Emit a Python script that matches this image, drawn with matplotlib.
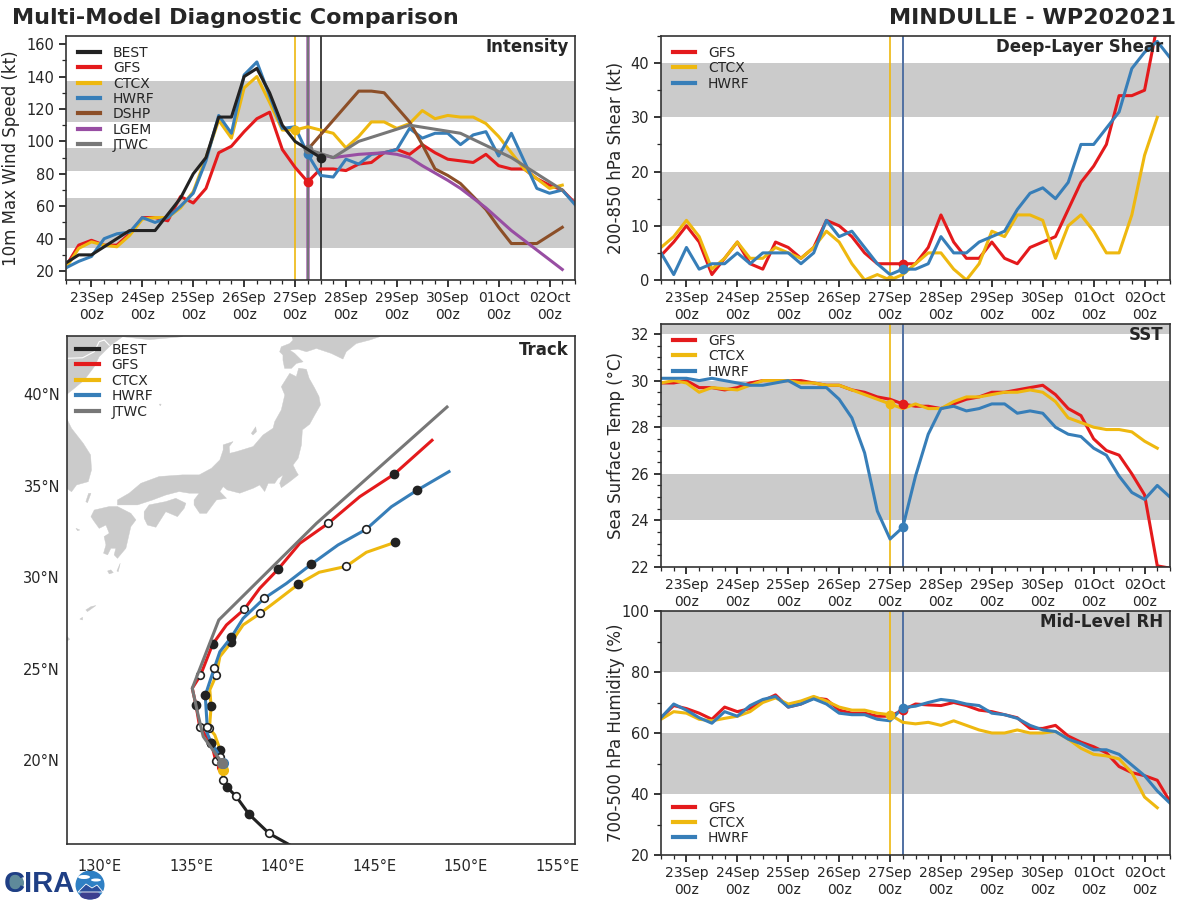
# Multi-model diagnostic comparison panel for MINDULLE
import matplotlib
matplotlib.use('Agg')
import matplotlib.pyplot as plt
import numpy as np
from matplotlib.patches import Circle, Polygon, Ellipse
from matplotlib.ticker import MultipleLocator

# model colours
BLACK = '#222222'
RED = '#e41a1c'
YELLOW = '#eeb80f'
BLUE = '#377eb8'
BROWN = '#8c4f28'
PURPLE = '#984ea3'
GREY = '#777777'
BAND = '#cbcbcb'
TXT = '#262626'

day_labels = ['23Sep', '24Sep', '25Sep', '26Sep', '27Sep', '28Sep', '29Sep', '30Sep', '01Oct', '02Oct']

# intensity (kt), 6-hourly from 22Sep 12z
int_best = [25, 30, 30, 35, 40, 45, 45, 45, 55, 65, 80, 90, 115, 115, 140, 145, 130, 110, 100, 95, 90]
int_gfs = [23, 36, 39, 36, 36, 43, 53, 53, 51, 66, 62, 71, 93, 97, 106, 114, 118, 95, 84, 75, 83, 83, 82, 86, 87, 93,
           95, 92, 98, 93, 89, 88, 87, 92, 85, 83, 83, 77, 73, 70, 62]
int_ctcx = [22, 34, 38, 36, 35, 42, 52, 53, 53, 59, 69, 90, 113, 102, 133, 140, 124, 107, 107, 109, 107, 105, 96, 103,
            112, 112, 108, 111, 119, 114, 116, 115, 115, 111, 103, 93, 83, 77, 71, 73]
int_hwrf = [22, 26, 29, 40, 43, 44, 53, 50, 53, 60, 68, 88, 116, 105, 141, 149, 128, 108, 109, 92, 79, 78, 89, 86, 92,
            93, 95, 108, 102, 105, 105, 98, 104, 106, 91, 105, 88, 71, 68, 70, 61]
int_dshp = [95, 104, 113, 122, 131, 131, 130, 121, 112, 98, 83, 79, 74, 66, 58, 47, 37, 37, 37, 42, 47]
int_lgem = [95, 92, 90, 91, 92, 92.5, 93, 92, 90, 85, 80.5, 76, 71, 65, 59, 52, 45, 39, 33, 27, 21]
jtwc_days = [4.25, 4.75, 5.25, 6.25, 7.25, 8.25, 9.25]
int_jtwc = [95, 90, 100, 110, 105, 90, 70]

# deep-layer shear (kt)
shr_gfs = [4.5, 7, 10, 7, 1, 4, 7, 3, 2, 7, 6, 4, 6, 11, 10, 8, 5, 3, 3, 3, 3, 6, 12, 7, 4, 4, 7, 4, 3, 6, 7, 8, 13,
           18, 21, 25, 34, 34, 35, 47, 50]
shr_ctcx = [6, 8, 11, 8, 2, 4, 7, 4, 4, 6, 5, 4, 6, 9, 7, 3, 0, 1, 0, 1, 3, 5, 5, 2, 0, 3, 9, 8, 12, 12, 11, 4, 10, 12,
            9, 5, 5, 12, 23, 30]
shr_hwrf = [5, 1, 6, 2, 3, 3, 5, 3, 5, 5, 5, 3, 5, 11, 8, 9, 6, 3, 1, 2, 2, 3, 8, 5, 5, 7, 8, 9, 13, 16, 17, 15, 18, 25,
            25, 28, 31, 39, 42, 44, 41]

# sea surface temperature (C)
sst_gfs = [29.9, 29.9, 30.0, 29.7, 29.7, 29.6, 29.7, 29.9, 30.0, 30.0, 30.0, 30.0, 29.9, 29.8, 29.8, 29.6, 29.5, 29.3,
           29.2, 29.0, 28.9, 28.9, 28.8, 29.0, 29.2, 29.3, 29.5, 29.5, 29.6, 29.7, 29.8, 29.4, 28.8, 28.5, 27.5, 27.0,
           26.8, 26.0, 25.1, 22.05, 21.95]
sst_ctcx = [29.9, 30.0, 29.9, 29.5, 29.7, 29.65, 29.6, 29.8, 30.0, 30.0, 30.0, 29.9, 29.9, 29.8, 29.8, 29.6, 29.4, 29.2,
            29.0, 28.8, 29.0, 28.8, 28.8, 29.1, 29.3, 29.3, 29.4, 29.5, 29.5, 29.6, 29.5, 29.1, 28.4, 28.2, 28.0, 27.9,
            27.9, 27.8, 27.4, 27.1]
sst_hwrf = [30.1, 30.1, 30.1, 30.0, 30.1, 30.0, 29.9, 29.8, 29.8, 29.9, 30.0, 29.7, 29.7, 29.7, 29.2, 28.4, 26.9, 24.4,
            23.2, 23.7, 25.9, 27.7, 28.8, 28.9, 28.7, 28.8, 29.0, 29.0, 28.6, 28.7, 28.6, 28.0, 27.7, 27.6, 27.1, 26.8,
            25.9, 25.2, 24.9, 25.5, 25.0]

# mid-level humidity (%)
rh_gfs = [65, 69, 68, 66.5, 64.5, 68.5, 67, 68, 70.5, 72.5, 68.5, 69.5, 71.5, 71, 67.5, 66.5, 66.5, 65.5, 65.5, 67.5,
          69.5, 69.2, 69, 70, 69, 67.5, 67, 66, 65, 61.5, 61.5, 62.5, 59, 57, 55.5, 53.5, 49, 47, 46, 44.5, 37.5]
rh_ctcx = [64.5, 67, 66.5, 64.5, 64, 64.8, 65.5, 67, 70, 71.5, 69.5, 70.5, 72, 70.5, 68.5, 67.5, 67.5, 66.5, 66, 63.5,
           63, 63.5, 62.5, 64, 62.5, 61, 60, 60, 61, 60, 60, 60.5, 58, 55, 53, 52.5, 51.5, 47, 39, 35.5]
rh_hwrf = [65, 69.5, 67.5, 65, 63.2, 67, 65.5, 69, 71, 72, 68.5, 69.5, 71.2, 69.5, 66.5, 66, 66, 64.5, 64, 68.3, 68.8,
           70, 71, 70.5, 69.5, 69, 66.5, 66, 64.8, 62.5, 61, 60.5, 58, 56.5, 54.5, 54.5, 53, 49.5, 46, 41, 37]

# tracks, lon / lat with 12-hourly dots
best_lon = [141.2, 140.29, 139.25, 138.16, 137.45, 136.96, 136.74, 136.74, 136.70]
best_lat = [14.9, 15.41, 15.99, 17.03, 18.01, 18.51, 18.89, 19.45, 19.82]
best_open = [2, 4, 6]
best_fill = [3, 5]

gfs_lon = [136.70, 136.34, 136.10, 135.46, 135.25, 135.05, 135.50, 136.16, 136.92, 137.89, 138.74, 139.74, 140.93,
           142.48, 144.21, 146.08, 148.16]
gfs_lat = [19.64, 19.93, 20.91, 21.79, 23.01, 23.92, 24.63, 26.32, 27.38, 28.23, 29.38, 30.42, 31.84, 32.93, 34.39,
           35.61, 37.47]
gfs_open = [1, 3, 6, 9, 13]
gfs_fill = [2, 4, 7, 11, 15]

ctcx_lon = [136.74, 136.58, 136.28, 135.99, 136.08, 136.01, 136.36, 136.56, 137.18, 137.83, 138.76, 139.84, 140.84,
            141.99, 143.46, 144.57, 146.13]
ctcx_lat = [19.45, 20.55, 21.37, 21.73, 22.93, 23.83, 24.63, 25.65, 26.43, 27.38, 28.01, 28.83, 29.60, 30.26, 30.58,
            31.35, 31.89]
ctcx_open = [3, 6, 10, 14]
ctcx_fill = [1, 4, 8, 12, 16]

hwrf_lon = [136.74, 136.58, 136.10, 135.83, 135.87, 135.76, 136.25, 136.56, 137.18, 137.83, 138.98, 140.20, 141.55,
            143.02, 144.55, 145.94, 147.34, 149.09]
hwrf_lat = [19.82, 20.18, 20.91, 21.55, 21.79, 23.53, 25.01, 25.92, 26.70, 27.74, 28.83, 29.65, 30.69, 31.75, 32.60,
            33.84, 34.74, 35.76]
hwrf_open = [1, 4, 6, 10, 14]
hwrf_fill = [2, 5, 8, 12, 16]

jtwc_lon = [136.70, 135.65, 135.37, 135.05, 136.50, 141.84, 148.98]
jtwc_lat = [19.82, 21.28, 22.46, 23.92, 27.65, 32.93, 39.29]

# land outlines
honshu = [(140.38, 41.13), (140.74, 40.95), (140.87, 41.41), (141.29, 41.35), (141.44, 40.86), (141.75, 40.31),
          (141.98, 39.86), (142.06, 39.40), (141.75, 38.86), (141.47, 38.35), (141.07, 38.04), (141.02, 37.22),
          (140.84, 36.49), (140.56, 36.12), (140.74, 35.76), (140.85, 35.58), (140.38, 35.21), (139.92, 34.88),
          (139.83, 35.12), (140.02, 35.58), (139.74, 35.39), (139.56, 35.12), (139.20, 35.12), (139.01, 34.67),
          (138.74, 35.03), (138.38, 34.85), (137.65, 34.58), (136.96, 34.76), (136.74, 34.94), (136.56, 34.67),
          (136.92, 34.30), (136.37, 34.21), (135.83, 33.48), (135.46, 33.48), (135.15, 33.94), (135.15, 34.21),
          (135.43, 34.58), (134.88, 34.58), (134.33, 34.67), (133.60, 34.48), (132.88, 34.21), (132.33, 34.03),
          (132.06, 33.94), (130.96, 33.94), (130.96, 34.21), (131.60, 34.58), (132.24, 35.12), (133.24, 35.49),
          (134.52, 35.58), (135.43, 35.58), (136.10, 35.94), (136.56, 36.40), (136.74, 36.94), (136.74, 37.22),
          (137.28, 37.40), (137.07, 37.13), (137.10, 36.76), (137.47, 36.85), (138.38, 37.13), (138.92, 37.76),
          (139.47, 38.13), (139.56, 38.49), (139.92, 39.13), (140.11, 39.95), (139.92, 40.40)]
hokkaido = [(139.92, 42.58), (140.38, 42.76), (140.56, 42.95), (140.47, 43.22), (140.47, 43.77), (145.66, 43.77),
            (145.30, 43.13), (144.75, 42.95), (144.02, 42.76), (143.47, 42.31), (143.29, 41.91), (142.65, 42.22),
            (141.84, 42.49), (141.29, 42.31), (140.83, 42.45), (140.38, 42.40), (140.65, 42.22), (141.11, 41.76),
            (140.74, 41.67), (140.47, 41.40), (140.10, 41.40), (140.01, 41.85), (140.01, 42.13), (139.83, 42.31)]
shikoku = [(132.42, 33.57), (132.69, 33.94), (133.60, 34.12), (134.15, 34.30), (134.70, 34.03), (134.61, 33.76),
           (134.24, 33.30), (133.60, 33.57), (133.06, 32.72), (132.60, 32.84), (132.42, 33.21)]
kyushu = [(129.69, 33.66), (130.51, 33.85), (130.96, 33.85), (131.69, 33.48), (131.97, 33.12), (131.69, 32.75),
          (131.42, 31.57), (130.96, 31.02), (130.78, 31.21), (130.87, 31.57), (130.60, 31.57), (130.42, 31.21),
          (130.20, 31.30), (130.33, 31.75), (130.23, 32.21), (130.51, 32.39), (130.33, 32.84), (129.96, 32.66),
          (129.69, 33.03), (129.51, 33.30)]
korea = [(128.18, 38.67), (128.45, 38.12), (129.09, 37.30), (129.49, 36.67), (129.54, 35.85), (129.36, 35.21),
         (128.72, 35.03), (128.45, 34.66), (128.18, 34.85), (127.8, 34.85), (127.8, 38.67)]
north_asia = [(134.51, 43.13), (134.51, 43.77), (127.8, 43.77), (127.8, 39.94), (128.14, 39.94), (128.60, 40.31),
              (129.14, 40.76), (129.69, 41.49), (129.96, 42.04), (130.60, 42.67), (131.24, 43.13), (132.69, 42.97)]
islands = [[(129.38, 34.57), (129.51, 34.57), (129.32, 34.06), (129.23, 34.12)],
           [(130.42, 30.33), (130.60, 30.39), (130.73, 30.24), (130.51, 30.17)],
           [(131.11, 30.75), (131.00, 30.29), (130.93, 30.33)],
           [(129.78, 28.44), (129.32, 28.11), (129.23, 28.20), (129.51, 28.38)],
           [(129.05, 27.80), (128.90, 27.70), (129.05, 27.65)],
           [(128.20, 26.75), (128.35, 26.60), (128.20, 26.50)],
           [(128.69, 32.66), (128.90, 32.57), (128.78, 32.53)],
           [(138.28, 37.85), (138.52, 38.21), (138.56, 37.94), (138.37, 37.76)],
           [(133.25, 39.45), (133.35, 39.45), (133.30, 39.35)]]
border_lon = [128.14, 129.05, 129.69, 129.96, 130.24, 130.51]
border_lat = [41.95, 41.98, 42.31, 42.86, 42.95, 42.67]
lon_ticks = [130, 135, 140, 145, 150, 155]
lat_ticks = [20, 25, 30, 35, 40]

plt.rcParams['font.family'] = 'DejaVu Sans'
plt.rcParams['text.color'] = TXT
plt.rcParams['axes.labelcolor'] = TXT
plt.rcParams['xtick.color'] = TXT
plt.rcParams['ytick.color'] = TXT

W, H = 1200, 900
LW = 2.2
fig = plt.figure(figsize=(12, 9), dpi=100)
LEG = dict(frameon=False, fontsize=10, handlelength=1.6, handletextpad=0.9, labelspacing=0.1)


def add_axes_px(left, top, right, bottom):
    """Add an axes from pixel edges measured from the top left corner."""
    return fig.add_axes([left / W, 1 - bottom / H, (right - left) / W, (bottom - top) / H])


def hours(values):
    return np.arange(len(values)) * 0.25 - 0.5


def setup_time_axis(ax, ylim, yticks, yminor, bands, ylabel, title, label_x):
    ax.set_xlim(-0.5, 9.5)
    ax.set_ylim(*ylim)
    ax.set_xticks(np.arange(10))
    ax.set_xticklabels([d + '\n00z' for d in day_labels], linespacing=1.25)
    ax.xaxis.set_minor_locator(MultipleLocator(0.25))
    ax.set_yticks(yticks)
    ax.yaxis.set_minor_locator(MultipleLocator(yminor))
    ax.tick_params(axis='both', which='major', length=5, width=1.3, labelsize=10.5)
    ax.tick_params(axis='x', which='major', pad=3, labelsize=10)
    ax.tick_params(axis='both', which='minor', length=3, width=0.9)
    for lo, hi in bands:
        ax.axhspan(lo, hi, color=BAND, lw=0, zorder=0)
    for s in ax.spines.values():
        s.set_linewidth(1.2)
        s.set_color('#333333')
        s.set_zorder(20)
    ax.set_ylabel(ylabel, fontsize=12)
    ax.yaxis.set_label_coords(label_x, 0.5)
    ax.text(0.987, 0.955, title, transform=ax.transAxes, ha='right', va='center', fontsize=12,
            fontweight='bold', zorder=30)


def thick_legend(leg):
    for line in leg.get_lines():
        line.set_linewidth(3)


def model_lines(ax, series):
    """Draw each model with its analysis dot and vertical marker."""
    for name, color, values, ref_i in series:
        x = hours(values)
        ax.axvline(x[ref_i], color=color, lw=1.2, zorder=3)
        ax.plot(x, values, color=color, lw=LW, label=name, zorder=5, solid_joinstyle='round')
        ax.plot(x[ref_i], values[ref_i], 'o', color=color, ms=6, zorder=6)


# intensity panel
ax1 = add_axes_px(66, 36, 575, 280)
setup_time_axis(ax1, (14.5, 165), [20, 40, 60, 80, 100, 120, 140, 160], 10,
                [(34, 65), (82, 96), (112, 137)], '10m Max Wind Speed (kt)', 'Intensity', -0.09)
ax1.axvline(4.25, color=PURPLE, lw=2.6, zorder=3, alpha=0.8)
model_lines(ax1, [('GFS', RED, int_gfs, 19), ('CTCX', YELLOW, int_ctcx, 18), ('HWRF', BLUE, int_hwrf, 19)])
xd = 4.25 + np.arange(len(int_dshp)) * 0.25
ax1.plot(xd, int_dshp, color=BROWN, lw=LW, label='DSHP', zorder=5)
ax1.plot(4.25 + np.arange(len(int_lgem)) * 0.25, int_lgem, color=PURPLE, lw=LW, label='LGEM', zorder=5)
ax1.plot(jtwc_days, int_jtwc, color=GREY, lw=LW, label='JTWC', zorder=5)
ax1.axvline(4.25, color=GREY, lw=1.4, zorder=4)
ax1.plot(jtwc_days[0], int_jtwc[0], 'o', color=GREY, ms=6, zorder=6)
ax1.axvline(4.5, color=BLACK, lw=1.2, zorder=4)
ax1.plot(hours(int_best), int_best, color=BLACK, lw=LW, label='BEST', zorder=7)
ax1.plot(hours(int_best)[-1], int_best[-1], 'o', color=BLACK, ms=6, zorder=8)
h, l = ax1.get_legend_handles_labels()
order = ['BEST', 'GFS', 'CTCX', 'HWRF', 'DSHP', 'LGEM', 'JTWC']
thick_legend(ax1.legend([h[l.index(n)] for n in order], order, loc='upper left', bbox_to_anchor=(0.005, 1.0),
                        borderpad=0.2, **LEG))

# shear panel
ax2 = add_axes_px(661, 36, 1170, 280)
setup_time_axis(ax2, (0, 45), [0, 10, 20, 30, 40], 5, [(10, 20), (30, 40)], '200-850 hPa Shear (kt)',
                'Deep-Layer Shear', -0.07)
model_lines(ax2, [('GFS', RED, shr_gfs, 19), ('CTCX', YELLOW, shr_ctcx, 18), ('HWRF', BLUE, shr_hwrf, 19)])
thick_legend(ax2.legend(loc='upper left', bbox_to_anchor=(0.005, 1.0), borderpad=0.2, **LEG))

# sst panel
ax3 = add_axes_px(661, 324, 1170, 567)
setup_time_axis(ax3, (22, 32.43), [22, 24, 26, 28, 30, 32], 0.5, [(24, 26), (28, 30), (32, 34)],
                'Sea Surface Temp (°C)', 'SST', -0.07)
model_lines(ax3, [('GFS', RED, sst_gfs, 19), ('CTCX', YELLOW, sst_ctcx, 18), ('HWRF', BLUE, sst_hwrf, 19)])
thick_legend(ax3.legend(loc='upper left', bbox_to_anchor=(0.005, 1.0), borderpad=0.2, **LEG))

# humidity panel
ax4 = add_axes_px(661, 611, 1170, 855)
setup_time_axis(ax4, (20, 100), [20, 40, 60, 80, 100], 10, [(40, 60), (80, 100)], '700-500 hPa Humidity (%)',
                'Mid-Level RH', -0.07)
model_lines(ax4, [('GFS', RED, rh_gfs, 19), ('CTCX', YELLOW, rh_ctcx, 18), ('HWRF', BLUE, rh_hwrf, 19)])
thick_legend(ax4.legend(loc='lower left', bbox_to_anchor=(0.005, 0.0), borderpad=0.2, **LEG))

# track panel
ax5 = add_axes_px(67, 336, 575, 844)
ax5.set_xlim(128.2, 155.98)
ax5.set_ylim(15.41, 43.17)
for poly in [honshu, hokkaido, shikoku, kyushu, korea, north_asia] + islands:
    ax5.add_patch(Polygon(poly, closed=True, fc=BAND, ec=BAND, lw=0.3, zorder=1))
ax5.plot(border_lon, border_lat, color='white', lw=0.8, zorder=2)


def track(name, color, lon, lat, open_idx, fill_idx, z):
    lon = np.array(lon)
    lat = np.array(lat)
    ax5.plot(lon, lat, color=color, lw=LW, label=name, zorder=z, solid_joinstyle='round')
    ax5.plot(lon[fill_idx], lat[fill_idx], 'o', mfc=BLACK, mec=BLACK, ms=6, zorder=z + 0.1)
    ax5.plot(lon[open_idx], lat[open_idx], 'o', mfc='white', mec=BLACK, mew=1.2, ms=5.5, zorder=z + 0.2)
    ax5.plot(lon[0], lat[0], 'o', color=color, ms=7, zorder=z + 0.3)


track('BEST', BLACK, best_lon, best_lat, best_open, best_fill, 3)
track('GFS', RED, gfs_lon, gfs_lat, gfs_open, gfs_fill, 4)
track('CTCX', YELLOW, ctcx_lon, ctcx_lat, ctcx_open, ctcx_fill, 5)
track('HWRF', BLUE, hwrf_lon, hwrf_lat, hwrf_open, hwrf_fill, 6)
ax5.plot(jtwc_lon, jtwc_lat, color=GREY, lw=LW, label='JTWC', zorder=7)
ax5.plot(jtwc_lon[0], jtwc_lat[0], 'o', color=GREY, ms=7, zorder=7.3)
ax5.set_xticks(lon_ticks)
ax5.set_xticklabels([f'{v}°E' for v in lon_ticks])
ax5.set_yticks(lat_ticks)
ax5.set_yticklabels([f'{v}°N' for v in lat_ticks])
ax5.tick_params(axis='x', length=0, pad=11, labelsize=10.5)
ax5.tick_params(axis='y', length=0, pad=5, labelsize=10.5)
for s in ax5.spines.values():
    s.set_linewidth(1.2)
    s.set_color('#333333')
    s.set_zorder(20)
ax5.text(0.987, 0.973, 'Track', transform=ax5.transAxes, ha='right', va='center', fontsize=12,
         fontweight='bold', zorder=30)
thick_legend(ax5.legend(loc='upper left', bbox_to_anchor=(0.005, 1.0), borderpad=0.0, **LEG))

# titles
fig.text(12 / W, 1 - 18 / H, 'Multi-Model Diagnostic Comparison', fontsize=16, fontweight='bold', ha='left', va='center')
fig.text(1176 / W, 1 - 18 / H, 'MINDULLE - WP202021', fontsize=16, fontweight='bold', ha='right', va='center')

# logo at the bottom left, behind the longitude labels
logo = add_axes_px(0, 858, 112, 900)
logo.set_zorder(-1)
logo.set_xlim(0, 112)
logo.set_ylim(42, 0)
logo.axis('off')
logo.add_patch(Circle((15, 25), 9, fc='#5f8a9a', ec='none'))
logo.text(4, 25.5, 'CIRA', fontsize=21, fontweight='bold', family='Liberation Sans', color='#1f3f85',
          ha='left', va='center')
logo.add_patch(Circle((90, 27), 14.5, fc='#2f80c4', ec='none'))
logo.add_patch(Ellipse((84, 19), 12, 4, fc='white', ec='none'))
logo.add_patch(Ellipse((96, 22), 10, 3, fc='white', ec='none'))
logo.add_patch(Ellipse((90, 37), 20, 9, fc='#3c3f8f', ec='none'))
logo.add_patch(Polygon([(78, 34), (86, 26), (92, 30), (97, 27), (103, 34)], fc='#2b4f9c', ec='white', lw=0.6))

fig.savefig('out.png', dpi=100)
